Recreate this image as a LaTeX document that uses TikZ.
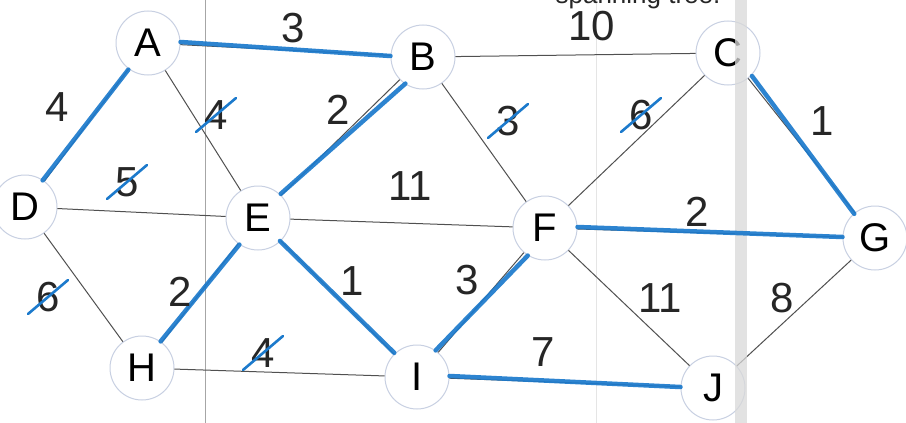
\documentclass[tikz,border=0pt]{standalone}
\usepackage{fontspec}
\setmainfont{Liberation Sans}
\definecolor{penblue}{RGB}{28,122,204}
\definecolor{edgegray}{RGB}{80,80,80}
\definecolor{ringgray}{RGB}{200,208,226}
\begin{document}
\begin{tikzpicture}[x=1pt,y=-1pt,
  vtx/.style={circle,draw=ringgray,line width=1pt,minimum size=64pt,inner sep=0pt,font=\fontsize{40}{40}\selectfont},
  edge/.style={draw=edgegray,line width=1pt},
  mst/.style={draw=penblue,line width=4.5pt,line cap=round,opacity=0.92},
  wt/.style={font=\fontsize{42}{42}\selectfont,text=black!85,inner sep=0pt},
  slash/.style={draw=penblue,line width=2.6pt,line cap=round}]
\useasboundingbox (0,0) rectangle (906,423);
\fill[white] (0,0) rectangle (906,423);
% scan artifacts
\draw[gray!70,line width=1pt] (205,0) -- (205,423);
\draw[gray!20,line width=1pt] (596,0) -- (596,423);
% header text (cut off at the top edge)
\node[anchor=base,font=\fontsize{26}{26}\selectfont,text=black!85] (hdr) at (638,4) {spanning tree.};
% vertices
\node[vtx] (A) at (148,43) {A};
\node[vtx] (B) at (423,57) {B};
\node[vtx] (C) at (728,53) {C};
\node[vtx] (D) at (25,207) {D};
\node[vtx] (E) at (258,218) {E};
\node[vtx] (F) at (545,228) {F};
\node[vtx] (G) at (875,238) {G};
\node[vtx] (H) at (142,368) {H};
\node[vtx] (I) at (417,377) {I};
\node[vtx] (J) at (713,388) {J};
% edges
\foreach \u/\v in {A/B,A/D,A/E,B/E,B/C,B/F,C/F,C/G,D/E,D/H,E/F,E/H,E/I,F/I,F/G,F/J,G/J,H/I,I/J}
  \draw[edge] (\u) -- (\v);
% minimum spanning tree pen marks
\draw[mst] ([yshift=1pt]A.east) -- ([yshift=1pt]B.west);
\draw[mst] ([xshift=-1pt]A.-125) -- ([xshift=-1pt]D.55);
\draw[mst] ([xshift=1pt]B.-125) -- ([xshift=1pt]E.48);
\draw[mst] ([xshift=1pt]C.-45) -- ([xshift=1pt]G.132);
\draw[mst] (E.-125) -- (H.55);
\draw[mst] ([xshift=-1pt]E.-45) -- ([xshift=-1pt]I.132);
\draw[mst] (F.-122) -- (I.55);
\draw[mst] ([yshift=1pt]I.east) -- ([yshift=1pt]J.west);
% band
\fill[gray!30,opacity=0.75] (735,0) rectangle (747,423);
\draw[mst] ([yshift=1pt]F.east) -- ([yshift=1pt]G.west);
% weights
\node[wt] (wAB) at (293,28) {3};
\node[wt] (wBC) at (592,26) {10};
\node[wt] (wAD) at (57,107) {4};
\node[wt] (wAE) at (216,115) {4};
\node[wt] (wBE) at (338,110) {2};
\node[wt] (wBF) at (508,121) {3};
\node[wt] (wCF) at (641,115) {6};
\node[wt] (wCG) at (822,121) {1};
\node[wt] (wDE) at (127,182) {5};
\node[wt] (wEF) at (410,186) {11};
\node[wt] (wFG) at (697,212) {2};
\node[wt] (wDH) at (48,297) {6};
\node[wt] (wEH) at (180,292) {2};
\node[wt] (wEI) at (352,281) {1};
\node[wt] (wFI) at (467,280) {3};
\node[wt] (wFJ) at (660,298) {11};
\node[wt] (wGJ) at (782,298) {8};
\node[wt] (wHI) at (263,353) {4};
\node[wt] (wIJ) at (543,352) {7};
% crossed-out weights
\foreach \w in {wAE,wBF,wCF,wDE,wDH,wHI}
  \draw[slash] ([shift={(-20,17)}]\w.center) -- ([shift={(20,-17)}]\w.center);
\end{tikzpicture}
\end{document}
